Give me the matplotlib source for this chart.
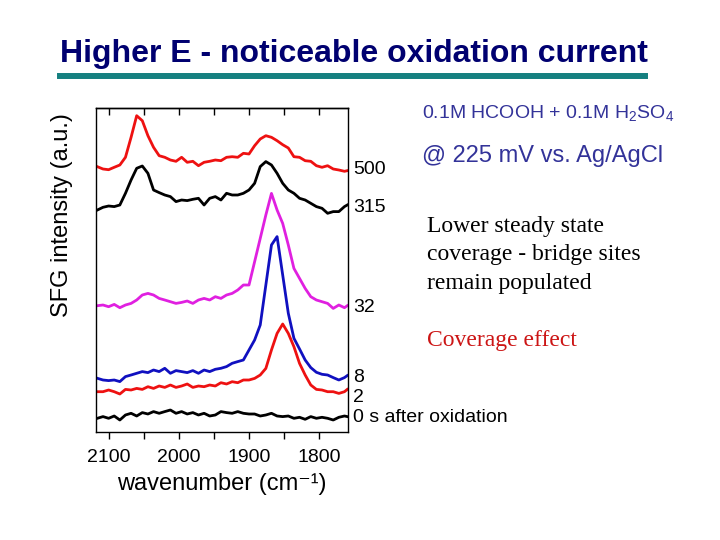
import matplotlib
matplotlib.use('Agg')
import matplotlib.pyplot as plt
from matplotlib.lines import Line2D
import matplotlib.transforms as mtransforms

plt.rcParams['font.family'] = ['Liberation Sans', 'DejaVu Sans']
plt.rcParams['mathtext.fontset'] = 'custom'
plt.rcParams['mathtext.rm'] = 'Liberation Sans'
plt.rcParams['mathtext.it'] = 'Liberation Sans:italic'

# wavenumber grid (cm-1)
wn = [2116, 2108, 2100, 2092, 2084, 2076, 2068, 2060, 2052, 2044,
      2036, 2028, 2020, 2012, 2004, 1996, 1988, 1980, 1972, 1964,
      1956, 1948, 1940, 1932, 1924, 1916, 1908, 1900, 1892, 1884,
      1876, 1868, 1860, 1852, 1844, 1836, 1828, 1820, 1812, 1804,
      1796, 1788, 1780, 1772, 1764, 1760]

# SFG spectra, time after oxidation (s)
s500 = [0.33, 0.1, 0.03, 0.27, 0.5, 1.27, 3.27, 5.43, 4.93, 3.43,
        2.27, 1.43, 1.27, 1.0, 0.87, 1.27, 0.77, 0.87, 0.43, 0.77,
        0.87, 1.0, 0.93, 1.27, 1.33, 1.27, 1.67, 1.6, 2.43, 3.1,
        3.43, 3.27, 2.93, 2.53, 2.2, 1.33, 1.27, 0.93, 0.87, 0.43,
        0.27, 0.43, 0.1, 0.0, -0.13, -0.07]
s315 = [-0.07, 0.2, 0.33, 0.27, 0.43, 1.6, 2.93, 4.1, 4.33, 3.6,
        1.93, 1.67, 1.43, 1.27, 0.77, 0.93, 0.87, 1.0, 1.1, 0.43,
        1.1, 1.27, 0.93, 1.6, 1.43, 1.43, 1.6, 1.93, 2.6, 4.27,
        4.77, 4.43, 3.6, 2.6, 1.93, 1.6, 1.1, 0.93, 0.6, 0.27,
        0.1, -0.4, -0.23, -0.23, 0.27, 0.43]
s32 = [0, 0.07, -0.1, 0.13, -0.2, 0.07, 0.23, 0.57, 1.07, 1.23,
       1.07, 0.73, 0.57, 0.4, 0.23, 0.33, 0.47, 0.23, 0.57, 0.73,
       0.57, 0.9, 0.73, 1.07, 1.23, 1.57, 2.07, 2.07, 4.4, 6.73,
       9.07, 11.23, 9.57, 8.23, 6.07, 3.73, 2.73, 1.73, 0.9, 0.57,
       0.4, 0.23, -0.27, 0.07, -0.2, 0]
s8 = [0.1, -0.07, -0.13, -0.07, -0.23, 0.27, 0.43, 0.6, 0.77, 0.67,
      0.93, 0.77, 1.1, 0.6, 0.87, 0.77, 0.67, 0.87, 0.6, 0.93,
      0.77, 1.0, 1.1, 1.27, 1.6, 1.77, 1.93, 2.93, 3.93, 5.43,
      9.43, 13.43, 14.27, 10.43, 6.6, 4.1, 3.03, 1.93, 1.17, 0.7,
      0.5, 0.43, 0.17, -0.07, 0.17, 0.37]
s2 = [0, 0, 0.17, 0, -0.23, 0.23, 0.17, 0.33, 0.23, 0.5,
      0.33, 0.57, 0.43, 0.67, 0.43, 0.57, 0.77, 0.43, 0.57, 0.5,
      0.67, 0.57, 0.9, 0.77, 1.0, 0.9, 1.17, 1.17, 1.33, 1.67,
      2.33, 4.17, 5.83, 6.77, 5.83, 4.5, 2.83, 1.67, 0.67, 0.23,
      0.17, 0, 0, -0.17, 0, 0.23]
s0 = [0, 0.17, 0, 0.23, -0.17, 0.33, 0.5, 0.23, 0.57, 0.43,
      0.67, 0.5, 0.67, 0.83, 0.5, 0.67, 0.43, 0.57, 0.33, 0.5,
      0.23, 0.33, 0.67, 0.57, 0.5, 0.67, 0.5, 0.43, 0.43, 0.23,
      0.33, 0.5, 0.23, 0.17, 0.23, 0, 0.1, -0.1, 0.17, 0,
      0.1, 0, -0.17, 0.1, 0.23, 0.17]

spectra = [s500, s315, s32, s8, s2, s0]
offsets = [26.2, 22.27, 12.63, 5.27, 4.03, 1.37]
colors = ['#ee1111', 'black', '#e020e0', '#1010c0', '#ee1111', 'black']
labels = ['500', '315', '32', '8', '2', '0 s after oxidation']
label_y = [26.2, 22.5, 12.4, 5.5, 3.4, 1.4]

fig = plt.figure(figsize=(7.2, 5.4), dpi=100)
ax = fig.add_axes([0.1333, 0.2, 0.35, 0.6])

for sp, off, c in zip(spectra, offsets, colors):
    ax.plot(wn, [v + off for v in sp], color=c, lw=2)

ax.set_xlim(2118, 1759)
ax.set_ylim(0, 32.4)
ax.set_yticks([])
ticks = [2100, 2050, 2000, 1950, 1900, 1850, 1800]
ax.set_xticks(ticks)
ax.set_xticklabels(['2100', '', '2000', '', '1900', '', '1800'], fontsize=14)
ax.tick_params(axis='x', direction='out', length=5, width=1, pad=7)
for s in ax.spines.values():
    s.set_linewidth(1)

top = ax.secondary_xaxis('top')
top.set_xticks(ticks)
top.set_xticklabels([])
top.tick_params(direction='in', length=5, width=1)
top.spines['top'].set_linewidth(1)

ax.set_xlabel('wavenumber (cm\u207b\u00b9)', fontsize=17, labelpad=5)

trans = mtransforms.blended_transform_factory(ax.transAxes, ax.transData)
for lab, y in zip(labels, label_y):
    ax.text(1.02, y, lab, transform=trans, fontsize=14, ha='left', va='center')

fig.text(62 / 720, 1 - 215 / 540, 'SFG intensity (a.u.)', rotation=90,
         fontsize=17, ha='center', va='center')

# slide title and rule
fig.text(60 / 720, 1 - 62 / 540, 'Higher E - noticeable oxidation current',
         fontsize=23, fontweight='bold', color='#000070', ha='left', va='baseline')
fig.add_artist(Line2D([60 / 720, 645 / 720], [1 - 76 / 540, 1 - 76 / 540],
                      color='#158080', lw=4.3))

fig.text(422 / 720, 1 - 118 / 540, '0.1M HCOOH + 0.1M H$_2$SO$_4$',
         fontsize=14, color='#333399', ha='left', va='baseline')
fig.text(422 / 720, 1 - 161.7 / 540, '@ 225 mV vs. Ag/AgCl',
         fontsize=17, color='#333399', ha='left', va='baseline')

serif = ['Liberation Serif', 'DejaVu Serif']
notes = ['Lower steady state', 'coverage - bridge sites', 'remain populated']
for i, line in enumerate(notes):
    fig.text(427 / 720, 1 - (231.7 + 28.6 * i) / 540, line, family=serif,
             fontsize=17, color='black', ha='left', va='baseline')
fig.text(427 / 720, 1 - 346 / 540, 'Coverage effect', family=serif,
         fontsize=17, color='#cc1515', ha='left', va='baseline')

fig.savefig('out.png', dpi=100)
